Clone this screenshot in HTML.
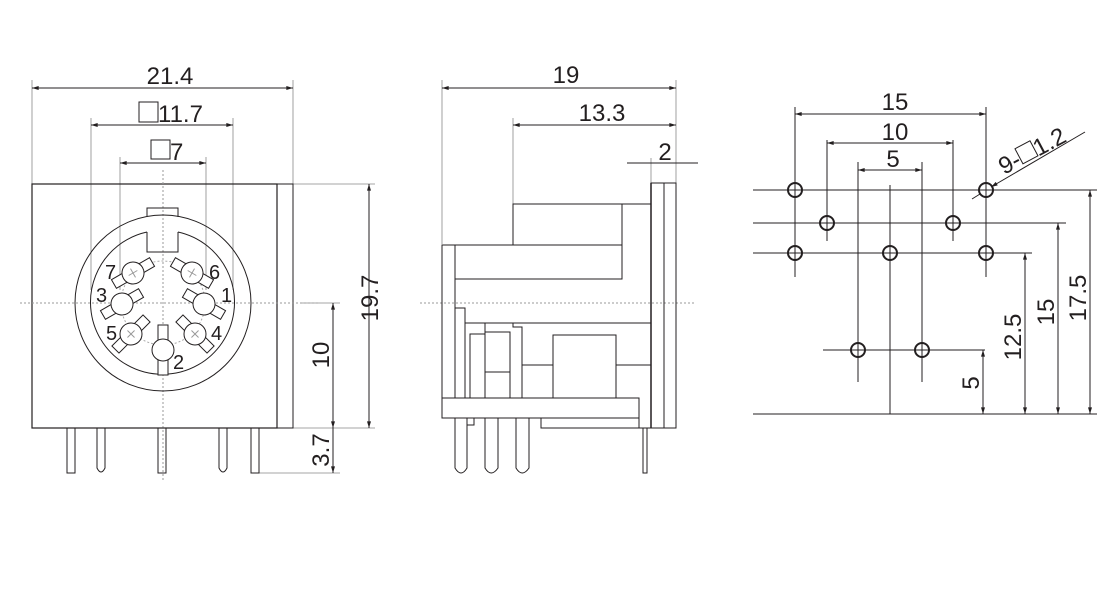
<!DOCTYPE html>
<html><head><style>
html,body{margin:0;padding:0;background:#fff;}
svg{display:block;}
text{font-family:"Liberation Sans",Arial,sans-serif;fill:#231f20;}
</style></head><body>
<svg width="1120" height="608" viewBox="0 0 1120 608" xmlns="http://www.w3.org/2000/svg">
<defs>
<marker id="a" viewBox="0 0 10 6" refX="10" refY="3" markerWidth="7" markerHeight="4" orient="auto-start-reverse"><path d="M0,0 L10,3 L0,6z" fill="#231f20"/></marker>
</defs>
<g stroke="#231f20" fill="none" stroke-width="1">
<g stroke="#888" stroke-width="0.8">
<line x1="32" y1="80" x2="32" y2="184"/><line x1="293" y1="80" x2="293" y2="184"/>
<line x1="91" y1="118" x2="91" y2="290"/><line x1="233" y1="118" x2="233" y2="290"/>
<line x1="120" y1="157" x2="120" y2="290"/><line x1="206" y1="157" x2="206" y2="290"/>
<line x1="293" y1="184" x2="375" y2="184"/><line x1="293" y1="428" x2="375" y2="428"/>
<line x1="300" y1="303" x2="340" y2="303"/><line x1="258" y1="473" x2="340" y2="473"/>
</g>
<line x1="32" y1="88" x2="293" y2="88" marker-start="url(#a)" marker-end="url(#a)"/>
<line x1="91" y1="125" x2="233" y2="125" marker-start="url(#a)" marker-end="url(#a)"/>
<line x1="120" y1="163" x2="206" y2="163" marker-start="url(#a)" marker-end="url(#a)"/>
<line x1="369" y1="184" x2="369" y2="428" marker-start="url(#a)" marker-end="url(#a)"/>
<line x1="333" y1="303" x2="333" y2="428" marker-start="url(#a)" marker-end="url(#a)"/>
<line x1="333" y1="428" x2="333" y2="473" marker-end="url(#a)"/>
<rect x="139" y="102" width="19" height="20"/>
<rect x="151" y="140" width="19" height="19"/>
<rect x="32" y="184" width="245" height="244" stroke-width="1.2"/>
<rect x="277" y="184" width="16" height="244"/>
<line x1="20" y1="303" x2="320" y2="303" stroke="#999" stroke-dasharray="2,2"/>
<line x1="163" y1="170" x2="163" y2="480" stroke="#999" stroke-dasharray="2,2"/>
<circle cx="163" cy="303" r="88"/>
<path d="M147,217 L147,208 L178,208 L178,217"/>
<path d="M147,232 L147,252 L178,252 L178,232"/>
<path d="M147,232 A72,72 0 1 0 178,232"/>
<circle cx="163" cy="303" r="42" stroke="#aaa" stroke-dasharray="2,2"/>
<g fill="#fff">
<g transform="translate(133,273) rotate(-30)"><rect x="-22" y="-5" width="44" height="10"/><circle r="11"/><path d="M-5,0h10M0,-5v10" stroke="#999"/></g>
<g transform="translate(192,273) rotate(30)"><rect x="-22" y="-5" width="44" height="10"/><circle r="11"/><path d="M-5,0h10M0,-5v10" stroke="#999"/></g>
<g transform="translate(122,304) rotate(-30)"><rect x="-22" y="-5" width="44" height="10"/><circle r="11"/></g>
<g transform="translate(204,304) rotate(30)"><rect x="-22" y="-5" width="44" height="10"/><circle r="11"/></g>
<g transform="translate(131,334) rotate(-45)"><rect x="-22" y="-5" width="44" height="10"/><circle r="11"/><path d="M-5,0h10M0,-5v10" stroke="#999"/></g>
<g transform="translate(195,334) rotate(45)"><rect x="-22" y="-5" width="44" height="10"/><circle r="11"/><path d="M-5,0h10M0,-5v10" stroke="#999"/></g>
<g transform="translate(163,350) rotate(90)"><rect x="-25" y="-5" width="50" height="10"/><circle r="11"/></g>
</g>
<rect x="67" y="428" width="8" height="45"/>
<path d="M97,428 V468 Q101,476 105,468 V428"/>
<rect x="158" y="428" width="8" height="45"/>
<path d="M219,428 V468 Q223,476 227,468 V428"/>
<rect x="251" y="428" width="8" height="45"/>

<g stroke="#888" stroke-width="0.8">
<line x1="442" y1="80" x2="442" y2="244"/><line x1="676" y1="80" x2="676" y2="183"/>
<line x1="513" y1="118" x2="513" y2="204"/>
<line x1="651" y1="158" x2="651" y2="183"/>
</g>
<line x1="442" y1="88" x2="676" y2="88" marker-start="url(#a)" marker-end="url(#a)"/>
<line x1="513" y1="125" x2="676" y2="125" marker-start="url(#a)" marker-end="url(#a)"/>
<line x1="627" y1="163" x2="698" y2="163"/>
<line x1="420" y1="303" x2="695" y2="303" stroke="#999" stroke-dasharray="2,2"/>
<rect x="651" y="183" width="25" height="245"/>
<line x1="664" y1="183" x2="664" y2="428"/>
<line x1="651" y1="183" x2="651" y2="428" stroke-width="1.5"/>
<path d="M513,245 V204 H651 M622,204 V279 H455"/>
<rect x="442" y="245" width="13" height="153"/>
<path d="M455,245 H622"/>
<path d="M455,308 H465 V323 H651 M465,323 V398"/>
<path d="M470,398 V334 H485"/>
<rect x="485" y="332" width="25" height="66"/><line x1="485" y1="372" x2="510" y2="372"/>
<path d="M485,323 V332 M513,323 V327 H522 V398"/>
<path d="M522,365 H553 M553,398 V335 H616 V398 M616,365 H651 M616,398 H639 V428"/>
<rect x="442" y="398" width="197" height="20"/>
<path d="M541,418 V428 H651"/>
<path d="M455,418 V468 Q461,478 467,468 V418"/>
<path d="M467,418 V425 H474 V418"/>
<path d="M485,418 V468 Q491,478 498,468 V418"/>
<path d="M516,418 V468 Q522,478 529,468 V418"/>
<rect x="643" y="428" width="4" height="45"/>

<path d="M753,190 H1097 M753,223 H1066 M753,253 H1032 M823,350 H985 M753,414 H1097"/>
<path d="M795,107 V277 M986,107 V277 M827,140 V241 M953,140 V241 M858,162 V382 M922,162 V382 M890,185 V414"/>
<line x1="795" y1="114" x2="986" y2="114" marker-start="url(#a)" marker-end="url(#a)"/>
<line x1="827" y1="143" x2="953" y2="143" marker-start="url(#a)" marker-end="url(#a)"/>
<line x1="858" y1="170" x2="922" y2="170" marker-start="url(#a)" marker-end="url(#a)"/>
<line x1="983" y1="350" x2="983" y2="414" marker-start="url(#a)" marker-end="url(#a)"/>
<line x1="1025" y1="253" x2="1025" y2="414" marker-start="url(#a)" marker-end="url(#a)"/>
<line x1="1058" y1="223" x2="1058" y2="414" marker-start="url(#a)" marker-end="url(#a)"/>
<line x1="1090" y1="190" x2="1090" y2="414" marker-start="url(#a)" marker-end="url(#a)"/>
<line x1="1085" y1="132" x2="991" y2="187" marker-end="url(#a)"/>
<line x1="972" y1="199" x2="980" y2="194"/>
<g stroke-width="2" fill="none">
<circle cx="795" cy="190" r="7"/><circle cx="986" cy="190" r="7"/>
<circle cx="827" cy="223" r="7"/><circle cx="953" cy="223" r="7"/>
<circle cx="795" cy="253" r="7"/><circle cx="890" cy="253" r="7"/><circle cx="986" cy="253" r="7"/>
<circle cx="858" cy="350" r="7"/><circle cx="922" cy="350" r="7"/>
</g>
</g>

<g font-size="24">
<text x="170" y="84" text-anchor="middle">21.4</text>
<text x="158" y="122">11.7</text>
<text x="170" y="160">7</text>
<text transform="translate(378,298) rotate(-90)" text-anchor="middle">19.7</text>
<text transform="translate(329,355) rotate(-90)" text-anchor="middle">10</text>
<text transform="translate(329,450) rotate(-90)" text-anchor="middle">3.7</text>
<text x="566" y="83" text-anchor="middle">19</text>
<text x="602" y="121" text-anchor="middle">13.3</text>
<text x="665" y="160" text-anchor="middle">2</text>
<text x="895" y="110" text-anchor="middle">15</text>
<text x="895" y="140" text-anchor="middle">10</text>
<text x="893" y="167" text-anchor="middle">5</text>
<text transform="translate(979,383) rotate(-90)" text-anchor="middle">5</text>
<text transform="translate(1021,337) rotate(-90)" text-anchor="middle">12.5</text>
<text transform="translate(1054,312) rotate(-90)" text-anchor="middle">15</text>
<text transform="translate(1086,298) rotate(-90)" text-anchor="middle">17.5</text>
<g transform="translate(1004,175) rotate(-28)"><text x="0" y="0">9-</text><rect x="22" y="-18" width="17" height="17" fill="none" stroke="#231f20"/><text x="39" y="0">1.2</text></g>
</g>
<g font-size="20">
<text x="105" y="279">7</text><text x="209" y="279">6</text>
<text x="96" y="302">3</text><text x="221" y="302">1</text>
<text x="106" y="340">5</text><text x="211" y="340">4</text>
<text x="173" y="369">2</text>
</g>
</svg>
</body></html>
